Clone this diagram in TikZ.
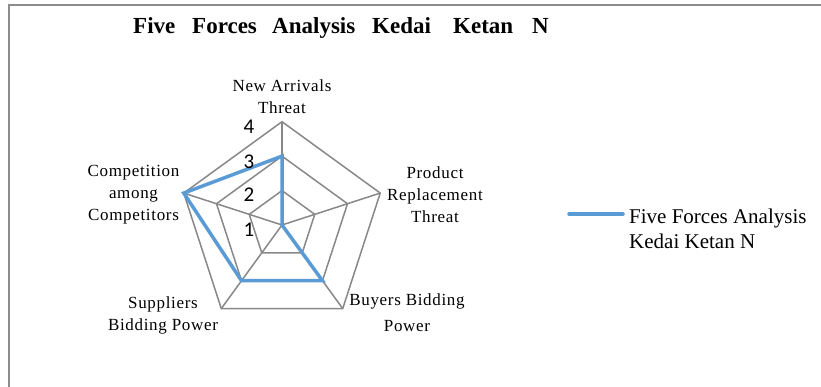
\documentclass[tikz,border=0pt]{standalone}
\usepackage{fontspec}
\usetikzlibrary{calc}
\setmainfont{Liberation Serif}
\newfontfamily\lblfont[LetterSpace=4]{Liberation Serif}
\newfontfamily\numfont{Carlito}
\definecolor{gridgray}{HTML}{888888}
\definecolor{framegray}{HTML}{8C8C8C}
\definecolor{serblue}{HTML}{5B9BD5}
\begin{document}
\begin{tikzpicture}[x=1pt,y=-1pt,
  grid/.style={draw=gridgray,line width=1.5pt,line join=miter},
  series/.style={draw=serblue,line width=3.5pt,line join=miter},
  axlabel/.style={inner sep=0pt,align=center,font=\lblfont\fontsize{17}{22}\selectfont},
  axnum/.style={inner sep=0pt,font=\numfont\fontsize{21}{24}\selectfont},
  legtext/.style={inner sep=0pt,align=left,font=\fontsize{21}{25}\selectfont}]
\useasboundingbox (0,0) rectangle (821,387);
% frame
\draw[framegray,line width=2pt] (8.5,387) -- (8.5,5.5) -- (821,5.5);
% title
\node[inner sep=0pt,anchor=base west,font=\bfseries\fontsize{23}{26}\selectfont] (title) at (133,34)
  {\makebox[59pt][l]{Five}\makebox[80pt][l]{Forces}\makebox[100pt][l]{Analysis}\makebox[81pt][l]{Kedai}\makebox[79pt][l]{Ketan}N};
% centre and axes
\coordinate (c) at (282,225);
\foreach \k in {0,...,4}{
  \pgfmathsetmacro{\ang}{-90+72*\k}
  \coordinate (a\k) at ($(c)+(\ang:103.3)$);
  \coordinate (b\k) at ($(c)+(\ang:68.87)$);
  \coordinate (d\k) at ($(c)+(\ang:34.43)$);
}
\foreach \r in {d,b,a}{
  \draw[grid] (\r0) -- (\r1) -- (\r2) -- (\r3) -- (\r4) -- cycle;
}
\foreach \k in {0,...,4}{ \draw[grid] (c) -- (a\k); }
% series: NA 3, PR 1, BB 3, SB 3, CC 4
\draw[series] (b0) -- (c) -- (b2) -- (b3) -- (a4) -- cycle;
% axis numbers
\node[axnum] (n1) at (249,230) {1};
\node[axnum] (n2) at (249,195) {2};
\node[axnum] (n3) at (249,161.5) {3};
\node[axnum] (n4) at (249,127) {4};
% category labels
\node[axlabel] (lna) at (282,97) {New Arrivals\\Threat};
\node[axlabel] (lpr) at (435,195) {Product\\Replacement\\Threat};
\node[axlabel] (lbb) at (407,312.5) {Buyers Bidding\\[4pt]Power};
\node[axlabel] (lsb) at (163,315) {Suppliers\\Bidding Power};
\node[axlabel] (lcc) at (133.5,194.5) {Competition\\among\\Competitors};
% legend
\coordinate (l1) at (569,214);
\coordinate (l2) at (623,214);
\draw[draw=serblue,line width=3.5pt,line cap=round] (l1) -- (l2);
\node[legtext,anchor=west] (leg) at (629,228.5) {Five Forces Analysis\\Kedai Ketan N};
\end{tikzpicture}
\end{document}
